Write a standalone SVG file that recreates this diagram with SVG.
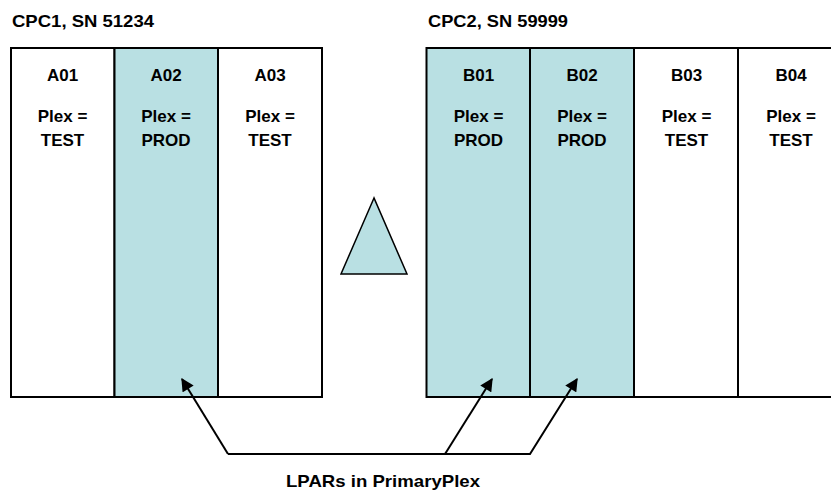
<svg xmlns="http://www.w3.org/2000/svg" width="831" height="491" viewBox="0 0 831 491">
<defs>
<style>
text{font-family:"Liberation Sans",Arial,sans-serif;font-weight:bold;fill:#000;}
.t{font-size:17px;text-anchor:middle;}
.h{font-size:17px;}
.lpar{stroke:#000;stroke-width:2;}
.prod{fill:#B9E0E3;}
.test{fill:#FFFFFF;}
.con{fill:none;stroke:#000;stroke-width:2;}
</style>
<marker id="ah" viewBox="0 0 10 10" refX="9" refY="5" markerWidth="7" markerHeight="6.5" markerUnits="strokeWidth" orient="auto">
<path d="M0,0 L10,5 L0,10 z" fill="#000"/>
</marker>
</defs>
<rect width="831" height="491" fill="#fff"/>
<text class="h" x="12" y="27" textLength="142" lengthAdjust="spacingAndGlyphs">CPC1, SN 51234</text>
<text class="h" x="428" y="27" textLength="140" lengthAdjust="spacingAndGlyphs">CPC2, SN 59999</text>
<g id="A01"><rect class="lpar test" x="11" y="48" width="103.5" height="349"/><text class="t" x="62.5" y="81">A01</text><text class="t" x="62.5" y="122">Plex =</text><text class="t" x="62.5" y="146">TEST</text></g>
<g id="A02"><rect class="lpar prod" x="114.5" y="48" width="103.5" height="349"/><text class="t" x="166" y="81">A02</text><text class="t" x="166" y="122">Plex =</text><text class="t" x="166" y="146">PROD</text></g>
<g id="A03"><rect class="lpar test" x="218" y="48" width="104" height="349"/><text class="t" x="270" y="81">A03</text><text class="t" x="270" y="122">Plex =</text><text class="t" x="270" y="146">TEST</text></g>
<g id="B01"><rect class="lpar prod" x="426.5" y="48" width="103.5" height="349"/><text class="t" x="478.5" y="81">B01</text><text class="t" x="478.5" y="122">Plex =</text><text class="t" x="478.5" y="146">PROD</text></g>
<g id="B02"><rect class="lpar prod" x="530" y="48" width="104" height="349"/><text class="t" x="582" y="81">B02</text><text class="t" x="582" y="122">Plex =</text><text class="t" x="582" y="146">PROD</text></g>
<g id="B03"><rect class="lpar test" x="634" y="48" width="104" height="349"/><text class="t" x="686.5" y="81">B03</text><text class="t" x="686.5" y="122">Plex =</text><text class="t" x="686.5" y="146">TEST</text></g>
<g id="B04"><rect class="lpar test" x="738" y="48" width="106" height="349"/><text class="t" x="791" y="81">B04</text><text class="t" x="791" y="122">Plex =</text><text class="t" x="791" y="146">TEST</text></g>
<g id="triangle"><polygon points="374,198 341,274 407,274" fill="#B9E0E3" stroke="#000" stroke-width="1.5"/></g>
<g id="connectors">
<polyline class="con" points="228,454 530,454 577,379" marker-end="url(#ah)"/>
<polyline class="con" points="228,454 182,379" marker-end="url(#ah)"/>
<polyline class="con" points="445,454 492,379" marker-end="url(#ah)"/>
</g>
<text class="h" x="286" y="487" textLength="194" lengthAdjust="spacingAndGlyphs">LPARs in PrimaryPlex</text>
</svg>
